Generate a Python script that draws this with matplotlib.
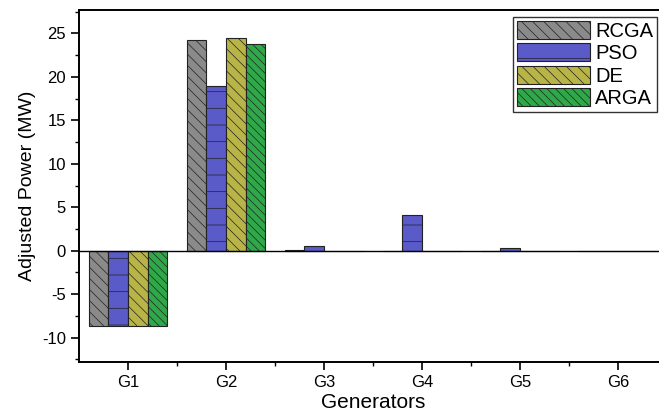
import matplotlib.pyplot as plt
import numpy as np
from matplotlib.ticker import MultipleLocator, FixedLocator

plt.rcParams['font.family'] = ['Liberation Sans', 'DejaVu Sans']
plt.rcParams['axes.unicode_minus'] = False
plt.rcParams['hatch.linewidth'] = 0.5

generators = ['G1', 'G2', 'G3', 'G4', 'G5', 'G6']
rcga = [-8.7, 24.3, 0.1, 0.0, 0.0, 0.0]
pso = [-8.7, 18.9, 0.55, 4.1, 0.3, 0.0]
de = [-8.7, 24.5, 0.0, 0.0, 0.0, 0.0]
arga = [-8.7, 23.8, 0.0, 0.0, 0.0, 0.0]

series = [
    ('RCGA', rcga, '#8a8a8a', '\\\\\\'),
    ('PSO', pso, '#5a5ac8', '-'),
    ('DE', de, '#b8b448', '\\\\\\'),
    ('ARGA', arga, '#2fa84a', '\\\\\\\\'),
]

fig = plt.figure(figsize=(6.59, 4.13), dpi=100)
# axes run past the right edge of the figure so the right spine is cut off
ax = fig.add_axes([79 / 659, 51 / 413, 588 / 659, 352 / 413])

x = np.arange(1, len(generators) + 1)
w = 0.2
for i, (name, vals, color, hatch) in enumerate(series):
    ax.bar(x + (i - 1.5) * w, vals, width=w, color=color, edgecolor='#222222',
           linewidth=0.8, hatch=hatch, label=name)

ax.axhline(0, color='black', linewidth=1.0)

ax.set_xlim(0.5, 6.5)
ax.set_ylim(-12.8, 27.7)
ax.set_xticks(x)
ax.set_xticklabels(generators)
ax.xaxis.set_minor_locator(FixedLocator(x[:-1] + 0.5))
ax.yaxis.set_major_locator(MultipleLocator(5))
ax.yaxis.set_minor_locator(MultipleLocator(2.5))

ax.tick_params(axis='both', which='major', direction='out', length=6, width=1.2,
               labelsize=12, colors='black')
ax.tick_params(axis='both', which='minor', direction='out', length=3, width=1.0)
for s in ax.spines.values():
    s.set_linewidth(1.4)

ax.set_xlabel('Generators', fontsize=15, labelpad=2)
ax.set_ylabel('Adjusted Power (MW)', fontsize=14, labelpad=4)

fig.legend(loc='upper right', bbox_to_anchor=(657 / 659, 1 - 17 / 413),
           fontsize=14.5, frameon=True, fancybox=False, edgecolor='black',
           handlelength=3.6, handleheight=1.0, labelspacing=0.12,
           borderpad=0.2, handletextpad=0.25, borderaxespad=0)

fig.savefig('out.png', dpi=100)
